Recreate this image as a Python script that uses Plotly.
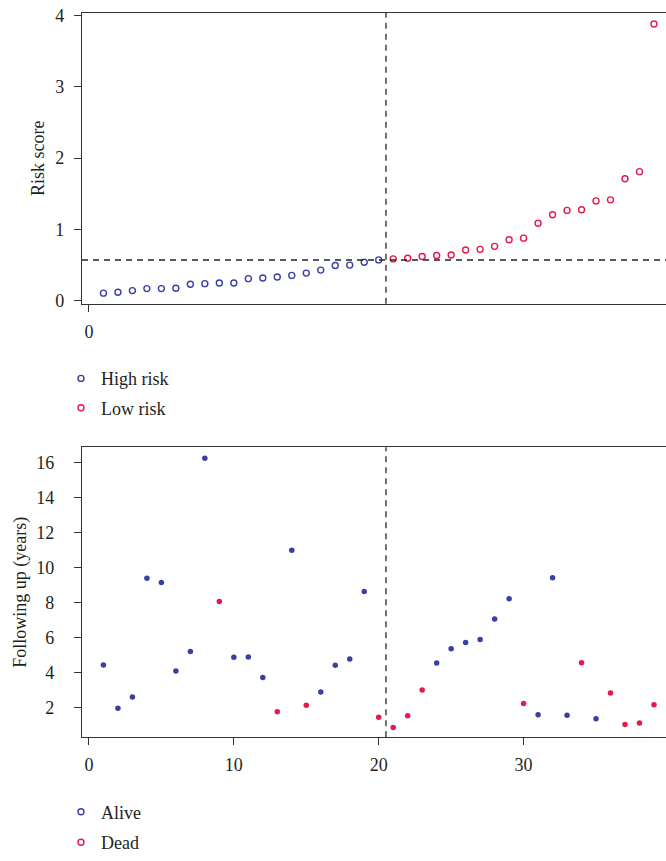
import plotly.graph_objects as go

# ---- data ----
patient_idx = list(range(1, 40))
risk_score = [0.107, 0.12, 0.143, 0.171, 0.171, 0.176, 0.231, 0.24, 0.25, 0.25,
              0.31, 0.32, 0.333, 0.356, 0.388, 0.43, 0.495, 0.50, 0.54, 0.573,
              0.587, 0.596, 0.62, 0.634, 0.642, 0.712, 0.721, 0.763, 0.856, 0.878,
              1.086, 1.207, 1.267, 1.276, 1.40, 1.415, 1.71, 1.81, 3.88]
risk_group = ["High risk"] * 20 + ["Low risk"] * 19
follow_up = [4.43, 1.96, 2.6, 9.39, 9.14, 4.09, 5.2, 16.25, 8.05, 4.87,
             4.88, 3.71, 1.76, 10.99, 2.13, 2.89, 4.41, 4.77, 8.63, 1.44,
             0.85, 1.53, 3.0, 4.54, 5.35, 5.71, 5.88, 7.05, 8.22, 2.23,
             1.59, 9.41, 1.55, 4.56, 1.36, 2.83, 1.02, 1.11, 2.15]
status = ["Alive", "Alive", "Alive", "Alive", "Alive", "Alive", "Alive", "Alive", "Dead", "Alive",
          "Alive", "Alive", "Dead", "Alive", "Dead", "Alive", "Alive", "Alive", "Alive", "Dead",
          "Dead", "Dead", "Dead", "Alive", "Alive", "Alive", "Alive", "Alive", "Alive", "Dead",
          "Alive", "Alive", "Alive", "Dead", "Alive", "Dead", "Dead", "Dead", "Dead"]
cutoff_index = 20.5
cutoff_score = 0.573
top_xticks = [0]
bottom_xticks = [0, 10, 20, 30]
top_yticks = [0, 1, 2, 3, 4]
bottom_yticks = [2, 4, 6, 8, 10, 12, 14, 16]

BLUE = "#3a3fa6"
RED = "#e8184b"
FONT = "Liberation Serif"
TXT = "#231f20"
colors = {"High risk": BLUE, "Low risk": RED, "Alive": BLUE, "Dead": RED}

fig = go.Figure()

# top panel: risk scores (open circles)
for grp in ["High risk", "Low risk"]:
    xs = [x for x, g in zip(patient_idx, risk_group) if g == grp]
    ys = [y for y, g in zip(risk_score, risk_group) if g == grp]
    fig.add_trace(go.Scatter(
        x=xs, y=ys, mode="markers", name=grp, legend="legend", legendgroup=grp,
        marker=dict(symbol="circle-open", size=6, color=colors[grp], line=dict(width=1.4)),
        xaxis="x", yaxis="y", showlegend=True))

# bottom panel: follow-up (filled dots), legend with open circles
for st in ["Alive", "Dead"]:
    xs = [x for x, s in zip(patient_idx, status) if s == st]
    ys = [y for y, s in zip(follow_up, status) if s == st]
    fig.add_trace(go.Scatter(
        x=xs, y=ys, mode="markers", name=st, showlegend=False,
        marker=dict(symbol="circle", size=5.5, color=colors[st]),
        xaxis="x2", yaxis="y2"))
    fig.add_trace(go.Scatter(
        x=[None], y=[None], mode="markers", name=st, legend="legend2", legendgroup=st,
        marker=dict(symbol="circle-open", size=6, color=colors[st], line=dict(width=1.4)),
        xaxis="x2", yaxis="y2", showlegend=True))

# dashed reference lines
dash = "6px,5px"
fig.add_shape(type="line", xref="x", yref="y domain", x0=cutoff_index, x1=cutoff_index, y0=0, y1=1,
              line=dict(color="#444", width=1.5, dash=dash))
fig.add_shape(type="line", xref="x domain", yref="y", x0=0, x1=1, y0=cutoff_score, y1=cutoff_score,
              line=dict(color="#222", width=1.5, dash=dash))
fig.add_shape(type="line", xref="x2", yref="y2 domain", x0=cutoff_index, x1=cutoff_index, y0=0, y1=1,
              line=dict(color="#444", width=1.5, dash=dash))

W, H = 666, 861
xdom = [82 / W, 1.0]
top_dom = [1 - 307 / H, 1 - 13 / H]
bot_dom = [1 - 745 / H, 1 - 452 / H]

axis_common = dict(showline=True, linecolor="#333", linewidth=1.4, ticks="outside", ticklen=7,
                   tickcolor="#333", tickwidth=1.2, showgrid=False, zeroline=False,
                   automargin=False, tickfont=dict(family=FONT, size=18, color=TXT))

fig.update_layout(
    template="none",
    width=W, height=H, margin=dict(l=0, r=0, t=0, b=0, pad=0),
    paper_bgcolor="white", plot_bgcolor="white",
    font=dict(family=FONT, size=18, color=TXT),
    xaxis=dict(domain=xdom, range=[-0.48, 39.83], tickvals=top_xticks, mirror=True,
               anchor="y", ticklabelstandoff=4, **axis_common),
    yaxis=dict(domain=top_dom, range=[-0.042, 4.036], tickvals=top_yticks, anchor="x",
               ticklabelstandoff=6,
               title=dict(text="Risk score", font=dict(family=FONT, size=18, color=TXT), standoff=5),
               **axis_common),
    xaxis2=dict(domain=xdom, range=[-0.48, 39.83], tickvals=bottom_xticks, mirror=True,
                anchor="y2", ticklabelstandoff=4, **axis_common),
    yaxis2=dict(domain=bot_dom, range=[0.30, 16.87], tickvals=bottom_yticks, anchor="x2",
                ticklabelstandoff=16,
                title=dict(text="Following up (years)", font=dict(family=FONT, size=18, color=TXT), standoff=4),
                **axis_common),
    legend=dict(x=61 / W, y=1 - 364 / H, xanchor="left", yanchor="top", tracegroupgap=3,
                bgcolor="rgba(0,0,0,0)", font=dict(family=FONT, size=18, color=TXT)),
    legend2=dict(x=61 / W, y=1 - 802 / H, xanchor="left", yanchor="top", tracegroupgap=4,
                 bgcolor="rgba(0,0,0,0)", font=dict(family=FONT, size=18, color=TXT)),
)

fig.write_html("out.html")
